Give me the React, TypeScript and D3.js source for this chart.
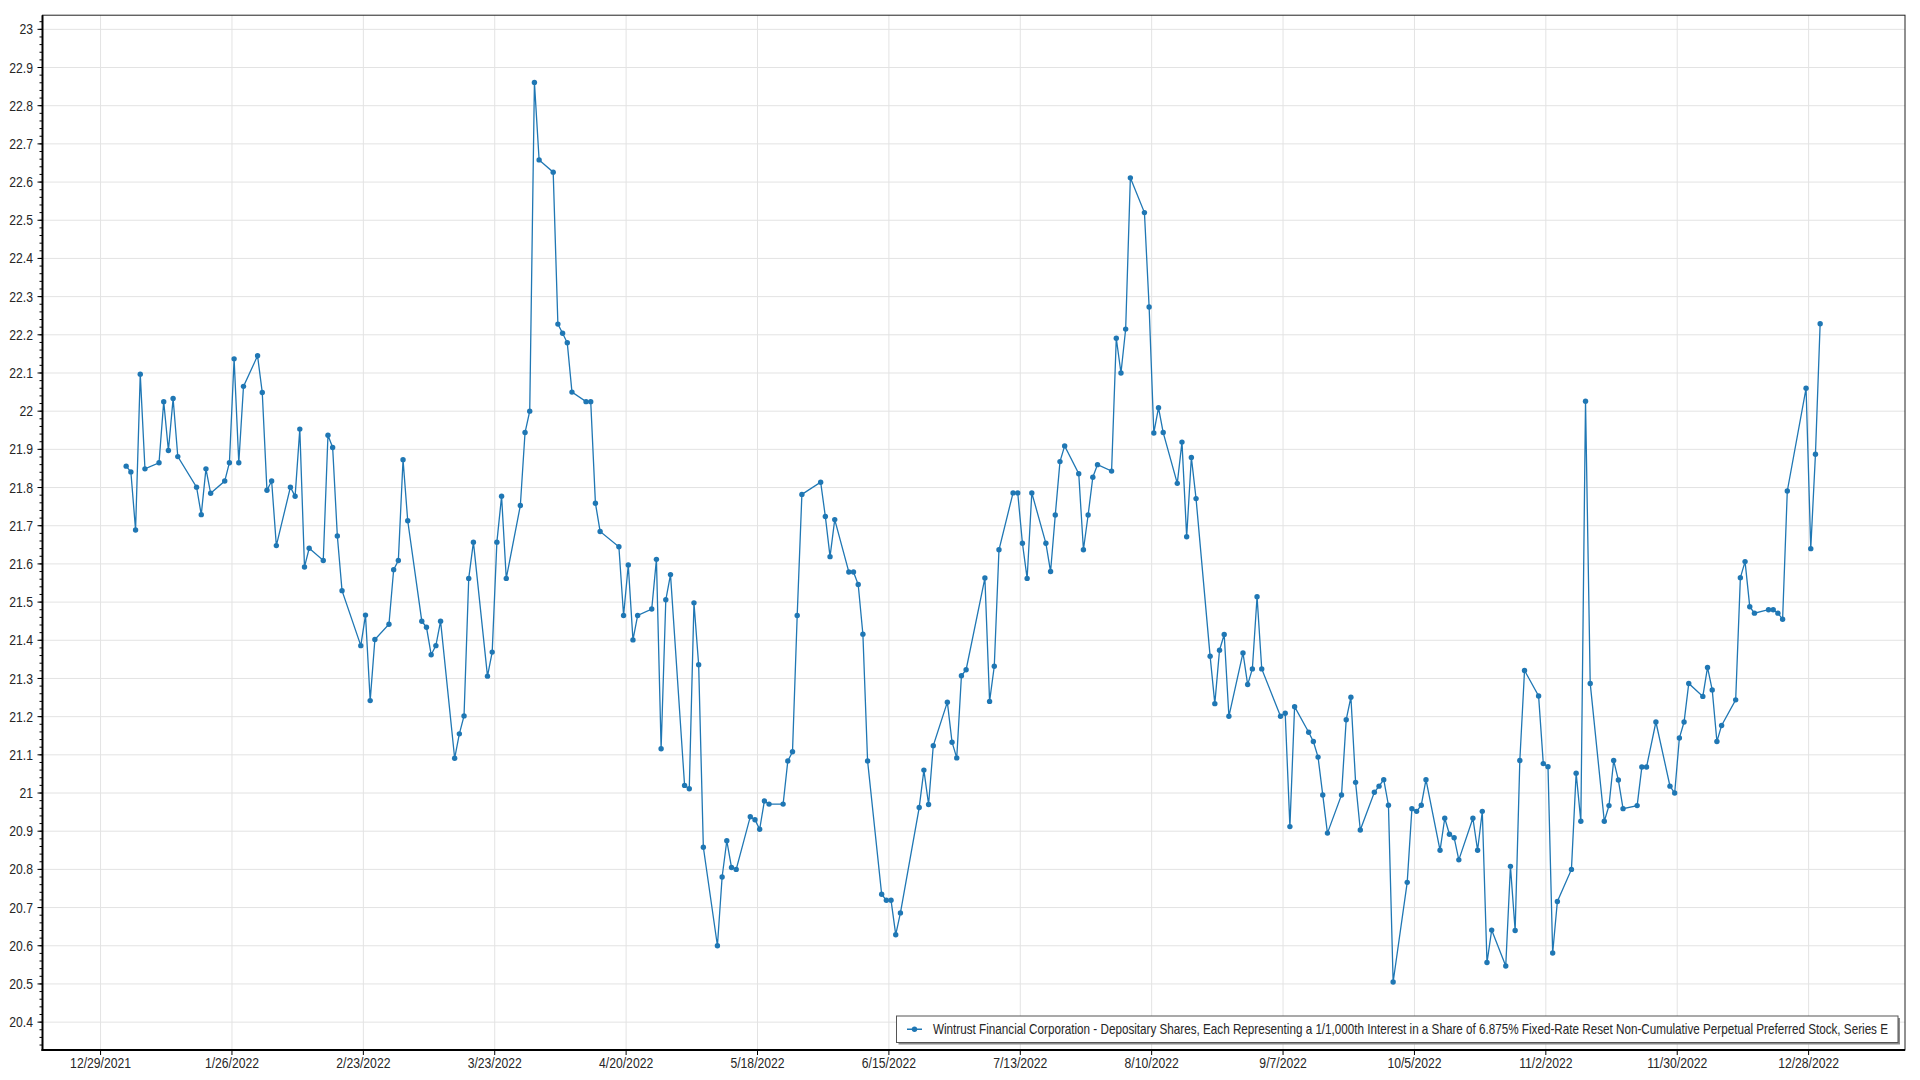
import React, { useEffect } from "react";
import * as d3 from "d3";

// ---- Data ----
const seriesName =
  "Wintrust Financial Corporation - Depositary Shares, Each Representing a 1/1,000th Interest in a Share of 6.875% Fixed-Rate Reset Non-Cumulative Perpetual Preferred Stock, Series E";

const tradeDates: string[] = [
  "2022-01-03","2022-01-04","2022-01-05","2022-01-06","2022-01-07","2022-01-10","2022-01-11","2022-01-12","2022-01-13","2022-01-14",
  "2022-01-18","2022-01-19","2022-01-20","2022-01-21","2022-01-24","2022-01-25","2022-01-26","2022-01-27","2022-01-28","2022-01-31",
  "2022-02-01","2022-02-02","2022-02-03","2022-02-04","2022-02-07","2022-02-08","2022-02-09","2022-02-10","2022-02-11","2022-02-14",
  "2022-02-15","2022-02-16","2022-02-17","2022-02-18","2022-02-22","2022-02-23","2022-02-24","2022-02-25","2022-02-28",
  "2022-03-01","2022-03-02","2022-03-03","2022-03-04","2022-03-07","2022-03-08","2022-03-09","2022-03-10","2022-03-11","2022-03-14",
  "2022-03-15","2022-03-16","2022-03-17","2022-03-18","2022-03-21","2022-03-22","2022-03-23","2022-03-24","2022-03-25","2022-03-28",
  "2022-03-29","2022-03-30","2022-03-31",
  "2022-04-01","2022-04-04","2022-04-05","2022-04-06","2022-04-07","2022-04-08","2022-04-11","2022-04-12","2022-04-13","2022-04-14",
  "2022-04-18","2022-04-19","2022-04-20","2022-04-21","2022-04-22","2022-04-25","2022-04-26","2022-04-27","2022-04-28","2022-04-29",
  "2022-05-02","2022-05-03","2022-05-04","2022-05-05","2022-05-06","2022-05-09","2022-05-10","2022-05-11","2022-05-12","2022-05-13",
  "2022-05-16","2022-05-17","2022-05-18","2022-05-19","2022-05-20","2022-05-23","2022-05-24","2022-05-25","2022-05-26","2022-05-27",
  "2022-05-31",
  "2022-06-01","2022-06-02","2022-06-03","2022-06-06","2022-06-07","2022-06-08","2022-06-09","2022-06-10","2022-06-13","2022-06-14",
  "2022-06-15","2022-06-16","2022-06-17","2022-06-21","2022-06-22","2022-06-23","2022-06-24","2022-06-27","2022-06-28","2022-06-29",
  "2022-06-30",
  "2022-07-01","2022-07-05","2022-07-06","2022-07-07","2022-07-08","2022-07-11","2022-07-12","2022-07-13","2022-07-14","2022-07-15",
  "2022-07-18","2022-07-19","2022-07-20","2022-07-21","2022-07-22","2022-07-25","2022-07-26","2022-07-27","2022-07-28","2022-07-29",
  "2022-08-01","2022-08-02","2022-08-03","2022-08-04","2022-08-05","2022-08-08","2022-08-09","2022-08-10","2022-08-11","2022-08-12",
  "2022-08-15","2022-08-16","2022-08-17","2022-08-18","2022-08-19","2022-08-22","2022-08-23","2022-08-24","2022-08-25","2022-08-26",
  "2022-08-29","2022-08-30","2022-08-31",
  "2022-09-01","2022-09-02","2022-09-06","2022-09-07","2022-09-08","2022-09-09","2022-09-12","2022-09-13","2022-09-14","2022-09-15",
  "2022-09-16","2022-09-19","2022-09-20","2022-09-21","2022-09-22","2022-09-23","2022-09-26","2022-09-27","2022-09-28","2022-09-29",
  "2022-09-30",
  "2022-10-03","2022-10-04","2022-10-05","2022-10-06","2022-10-07","2022-10-10","2022-10-11","2022-10-12","2022-10-13","2022-10-14",
  "2022-10-17","2022-10-18","2022-10-19","2022-10-20","2022-10-21","2022-10-24","2022-10-25","2022-10-26","2022-10-27","2022-10-28",
  "2022-10-31",
  "2022-11-01","2022-11-02","2022-11-03","2022-11-04","2022-11-07","2022-11-08","2022-11-09","2022-11-10","2022-11-11","2022-11-14",
  "2022-11-15","2022-11-16","2022-11-17","2022-11-18","2022-11-21","2022-11-22","2022-11-23","2022-11-25","2022-11-28","2022-11-29",
  "2022-11-30",
  "2022-12-01","2022-12-02","2022-12-05","2022-12-06","2022-12-07","2022-12-08","2022-12-09","2022-12-12","2022-12-13","2022-12-14",
  "2022-12-15","2022-12-16","2022-12-19","2022-12-20","2022-12-21","2022-12-22","2022-12-23","2022-12-27","2022-12-28","2022-12-29",
  "2022-12-30",
];

const closePrices: number[] = [
  21.856,21.841,21.689,22.097,21.849,21.865,22.025,21.897,22.033,21.881,
  21.801,21.729,21.849,21.785,21.817,21.865,22.137,21.865,22.065,22.145,
  22.049,21.793,21.817,21.648,21.801,21.777,21.953,21.592,21.641,21.609,
  21.937,21.905,21.673,21.530,21.386,21.466,21.242,21.402,21.442,
  21.585,21.609,21.873,21.713,21.450,21.434,21.362,21.386,21.450,21.091,
  21.155,21.202,21.562,21.657,21.306,21.369,21.657,21.777,21.562,21.753,
  21.944,22.000,22.861,
  22.658,22.626,22.228,22.204,22.179,22.050,22.025,22.025,21.759,21.685,
  21.645,21.465,21.597,21.401,21.465,21.482,21.612,21.116,21.506,21.572,
  21.020,21.011,21.498,21.336,20.858,20.600,20.780,20.875,20.805,20.800,
  20.938,20.930,20.905,20.979,20.971,20.971,21.084,21.108,21.465,21.782,
  21.814,
  21.724,21.619,21.716,21.579,21.579,21.546,21.416,21.084,20.735,20.719,
  20.719,20.629,20.686,20.962,21.060,20.970,21.124,21.238,21.133,21.092,
  21.307,
  21.323,21.563,21.240,21.332,21.637,21.786,21.786,21.654,21.562,21.786,
  21.654,21.580,21.728,21.868,21.909,21.836,21.637,21.728,21.827,21.860,
  21.843,22.191,22.100,22.215,22.611,22.520,22.273,21.943,22.009,21.944,
  21.811,21.919,21.671,21.879,21.771,21.358,21.234,21.374,21.415,21.201,
  21.367,21.284,21.325,
  21.514,21.325,21.201,21.209,20.912,21.226,21.159,21.135,21.094,20.995,
  20.895,20.995,21.192,21.251,21.028,20.903,21.002,21.018,21.035,20.968,
  20.505,
  20.766,20.959,20.952,20.968,21.035,20.850,20.934,20.892,20.883,20.825,
  20.934,20.850,20.952,20.556,20.641,20.547,20.808,20.640,21.085,21.321,
  21.254,
  21.077,21.069,20.581,20.716,20.800,21.052,20.926,22.026,21.287,20.926,
  20.967,21.085,21.034,20.959,20.967,21.068,21.068,21.186,21.018,21.000,
  21.144,
  21.186,21.287,21.253,21.329,21.270,21.135,21.177,21.244,21.564,21.606,
  21.488,21.471,21.480,21.480,21.471,21.455,21.791,22.060,21.640,21.887,
  22.229,
];

const xTickStart = "2021-12-29";
const xTickStepDays = 28;
const xTickCount = 14;
const yTickValues: number[] = d3.range(204, 231).map((v) => v / 10);
const yMinorTickValues: number[] = d3.range(1017, 1152).map((v) => v / 50);

const xDomain: [Date, Date] = [new Date(2021, 11, 16, 15), new Date(2023, 0, 17, 13)];
const yDomain: [number, number] = [20.327, 23.037];

const parseDay = (s: string) => {
  const [y, m, d] = s.split("-").map(Number);
  return new Date(y, m - 1, d);
};

export default function App() {
  useEffect(() => {
    document.body.style.margin = "0";
    document.body.style.overflow = "hidden";
  }, []);

  const W = 1920;
  const H = 1080;
  const left = 42.5;
  const right = 1905;
  const top = 15.2;
  const bottom = 1050;

  const x = d3.scaleTime().domain(xDomain).range([left, right]);
  const y = d3.scaleLinear().domain(yDomain).range([bottom, top]);

  const points = tradeDates.map((d, i) => ({
    date: d3.timeHour.offset(parseDay(d), 11),
    value: closePrices[i],
  }));

  const lineGen = d3
    .line<{ date: Date; value: number }>()
    .x((d) => x(d.date))
    .y((d) => y(d.value));

  const tickStart = parseDay(xTickStart);
  const xTicks = d3.range(xTickCount).map((k) => d3.timeDay.offset(tickStart, k * xTickStepDays));
  const fmt = d3.timeFormat("%-m/%-d/%Y");

  const font = "'Liberation Sans', Arial, sans-serif";
  const textColor = "#262626";
  const gridColor = "#e3e3e3";
  const lineColor = "#1f77b4";
  const squeeze = 0.87;
  const legendSqueeze = 0.84;

  const legendX = 896.5;
  const legendY = 1016;
  const legendW = 1001.5;
  const legendH = 26.5;
  const legendTextX = 933;
  const legendTextW = 955;

  return (
    <svg
      width={W}
      height={H}
      style={{ position: "absolute", left: 0, top: 0, background: "#fff" }}
    >
      <rect x={0} y={0} width={W} height={H} fill="#fff" />
      {/* grid */}
      <g>
        {yTickValues.map((v) => (
          <line key={"gy" + v} x1={left} x2={right} y1={y(v)} y2={y(v)} stroke={gridColor} strokeWidth={1} />
        ))}
        {xTicks.map((t) => (
          <line key={"gx" + t.getTime()} x1={x(t)} x2={x(t)} y1={top} y2={bottom} stroke={gridColor} strokeWidth={1} />
        ))}
      </g>
      {/* plot frame */}
      <rect x={left} y={top} width={right - left} height={bottom - top} fill="none" stroke="#222" strokeWidth={1} />
      {/* series */}
      <path d={lineGen(points) || ""} fill="none" stroke={lineColor} strokeWidth={1.3} />
      <g fill={lineColor}>
        {points.map((p, i) => (
          <circle key={i} cx={x(p.date)} cy={y(p.value)} r={2.7} />
        ))}
      </g>
      {/* axes */}
      <line x1={left} x2={left} y1={top} y2={bottom + 1} stroke="#000" strokeWidth={2} />
      <line x1={left - 1} x2={right} y1={bottom} y2={bottom} stroke="#000" strokeWidth={2} />
      <g stroke="#000" strokeWidth={1}>
        {yTickValues.map((v) => (
          <line key={"ty" + v} x1={left - 5} x2={left} y1={y(v)} y2={y(v)} />
        ))}
        {yMinorTickValues.map((v) => (
          <line key={"my" + v} x1={left - 3} x2={left} y1={y(v)} y2={y(v)} />
        ))}
        {xTicks.map((t) => (
          <line key={"tx" + t.getTime()} x1={x(t)} x2={x(t)} y1={bottom} y2={bottom + 5} />
        ))}
      </g>
      <g fontFamily={font} fontSize={14} fill={textColor}>
        {yTickValues.map((v) => (
          <text
            key={"ly" + v}
            transform={`translate(33,${y(v)}) scale(${squeeze},1)`}
            dy="0.36em"
            textAnchor="end"
          >
            {d3.format("")(Math.round(v * 10) / 10)}
          </text>
        ))}
        {xTicks.map((t) => (
          <text
            key={"lx" + t.getTime()}
            transform={`translate(${x(t)},1068) scale(${squeeze},1)`}
            textAnchor="middle"
          >
            {fmt(t)}
          </text>
        ))}
      </g>
      {/* legend */}
      <rect x={legendX + 2} y={legendY + 2} width={legendW} height={legendH} fill="#8a8a8a" />
      <rect x={legendX} y={legendY} width={legendW} height={legendH} fill="#fff" stroke="#555" strokeWidth={1} />
      <line x1={907} x2={922} y1={legendY + legendH / 2} y2={legendY + legendH / 2} stroke={lineColor} strokeWidth={1.5} />
      <circle cx={914.5} cy={legendY + legendH / 2} r={2.7} fill={lineColor} />
      <text
        transform={`translate(${legendTextX},${legendY + legendH / 2}) scale(${legendSqueeze},1)`}
        dy="0.36em"
        fontFamily={font}
        fontSize={14}
        fill={textColor}
        textLength={legendTextW / legendSqueeze}
        lengthAdjust="spacingAndGlyphs"
      >
        {seriesName}
      </text>
    </svg>
  );
}
